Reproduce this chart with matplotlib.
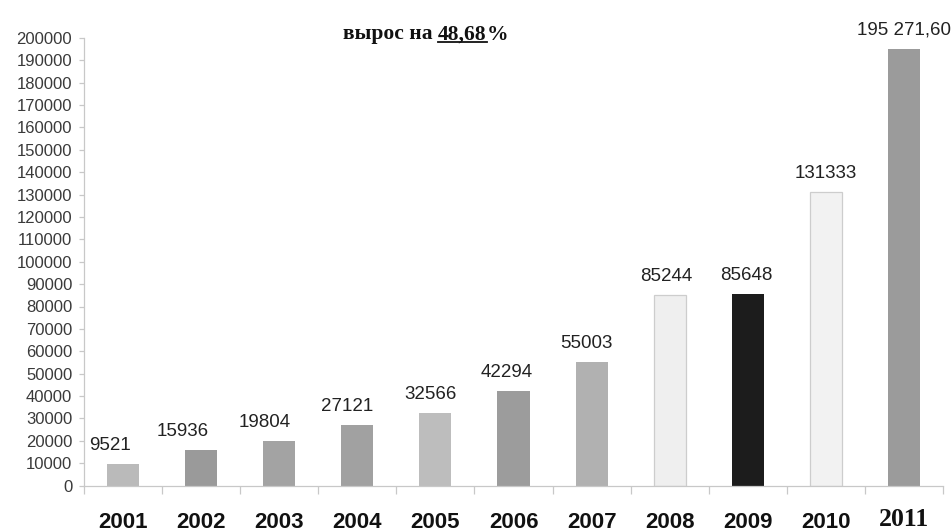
import matplotlib
matplotlib.use('Agg')
import matplotlib.pyplot as plt
from matplotlib.lines import Line2D
import numpy as np


###  data
years = ['2001', '2002', '2003', '2004', '2005', '2006',
         '2007', '2008', '2009', '2010', '2011']
values = [9521, 15936, 19804, 27121, 32566, 42294,
          55003, 85244, 85648, 131333, 195271.60]
value_labels = ['9521', '15936', '19804', '27121', '32566', '42294',
                '55003', '85244', '85648', '131333', '195 271,60']
title_pre = 'вырос на '
title_num = '48,68'
title_post = '%'

###  styles
bar_colors = ['#bababa', '#9a9a9a', '#a3a3a3', '#a1a1a1', '#bdbdbd', '#9c9c9c',
              '#b1b1b1', '#efefef', '#1c1c1c', '#f2f2f2', '#9b9b9b']
edge_colors = ['none']*7 + ['#cdcdcd', 'none', '#cdcdcd', 'none']
label_dx = [-13, -18, -15, -10, -5, -7, -5, -3, -1, 0, 0]   # pixels

plt.rcParams['font.family'] = ['Liberation Sans', 'DejaVu Sans']

fig = plt.figure(figsize=(9.53, 5.32), dpi=100)
ax = fig.add_axes([84/953, 46.5/532, 859/953, 447.5/532])

x = np.arange(len(years))
ax.bar(x, values, width=0.41, color=bar_colors, edgecolor=edge_colors,
       linewidth=0.9, zorder=2)

for i, v in enumerate(values):
    ax.annotate(value_labels[i], xy=(x[i], v), xytext=(label_dx[i], 14),
                textcoords='offset pixels', ha='center', va='baseline',
                fontsize=13.5, color='#222222')

ax.set_xlim(-0.5, len(years) - 0.5)
ax.set_ylim(0, 200000)
ax.set_yticks(np.arange(0, 200001, 10000))
ax.set_yticklabels([str(t) for t in range(0, 200001, 10000)])

###  x ticks: marks at category boundaries, labels at centres
ax.set_xticks(x)
#  the 2011 label is set in a different font in the original, drawn below
ax.set_xticklabels(years[:-1] + [''])
ax.set_xticks(np.arange(-0.5, len(years)), minor=True)
ax.tick_params(axis='x', which='major', length=0, pad=19)
ax.tick_params(axis='x', which='minor', length=6, width=0.9, color='#c8c8c8')
ax.tick_params(axis='y', length=3.5, width=0.9, color='#c8c8c8', pad=5,
               labelsize=12, labelcolor='#3a3a3a')

for lab in ax.get_xticklabels():
    lab.set_fontsize(16)
    lab.set_fontweight('bold')
    lab.set_color('#111111')

ax.annotate(years[-1], xy=(x[-1], 0), xytext=(0, -41),
            textcoords='offset pixels', ha='center', va='baseline',
            fontfamily='Liberation Serif', fontweight='bold', fontsize=18.5,
            color='#111111', annotation_clip=False)

for s in ['top', 'right']:
    ax.spines[s].set_visible(False)
for s in ['left', 'bottom']:
    ax.spines[s].set_color('#c8c8c8')
    ax.spines[s].set_linewidth(0.9)

###  title with underlined number, pieces placed one after another
renderer = fig.canvas.get_renderer()
tkw = dict(fontfamily='Liberation Serif', fontweight='bold', fontsize=15.5,
           va='baseline', ha='left', color='#111111')
base_y = 532 - 39.5
x0 = 343
t1 = fig.text(x0/953, base_y/532, title_pre, **tkw)
w1 = t1.get_window_extent(renderer).width
t2 = fig.text((x0 + w1)/953, base_y/532, title_num, **tkw)
w2 = t2.get_window_extent(renderer).width
t3 = fig.text((x0 + w1 + w2)/953, base_y/532, title_post, **tkw)
uy = (base_y - 2.5)/532
fig.add_artist(Line2D([(x0 + w1)/953, (x0 + w1 + w2)/953], [uy, uy],
                      transform=fig.transFigure, color='#111111', linewidth=1.3))

fig.savefig('out.png', dpi=100, facecolor='white')
